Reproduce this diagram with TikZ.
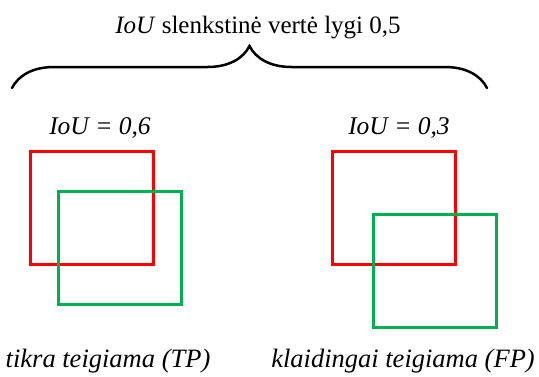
\documentclass[tikz,border=0pt]{standalone}
\usepackage{fontspec}
\setmainfont{Liberation Serif}
\usetikzlibrary{decorations.pathreplacing}
\definecolor{boxred}{RGB}{255,0,0}
\definecolor{boxgreen}{RGB}{0,176,80}

\begin{document}
\begin{tikzpicture}
    [
    x=1pt, y=-1pt,
    box/.style={rectangle,draw,line width=3pt,inner sep=0pt,minimum width=123pt,minimum height=113pt},
    truth/.style={box,draw=boxred},
    guess/.style={box,draw=boxgreen},
    iou/.style={font=\fontsize{25.5}{30}\selectfont\itshape},
    verdict/.style={font=\fontsize{26.5}{31}\selectfont\itshape}
    ]
    \useasboundingbox (0,0) rectangle (539,376);

    \node (title) at (258,28) [font=\fontsize{25}{30}\selectfont] {\textit{IoU} slenkstinė vertė lygi 0,5};
    \coordinate (bl) at (12,88);
    \coordinate (br) at (487,88);
    \draw [decorate, decoration={brace,amplitude=42pt}, line width=2.5pt, line cap=round] (bl) -- (br);

    \node (t1) at (92,208) [truth] {};
    \node (g1) at (119.5,247.5) [guess] {};
    \node (t2) at (393.5,208) [truth] {};
    \node (g2) at (434.5,271) [guess] {};

    \node (iou1) at (100,128) [iou] {IoU = 0,6};
    \node (iou2) at (399,128) [iou] {IoU = 0,3};
    \node (tp) at (108,361) [verdict] {tikra teigiama (TP)};
    \node (fp) at (403,361) [verdict] {klaidingai teigiama (FP)};
\end{tikzpicture}
\end{document}
